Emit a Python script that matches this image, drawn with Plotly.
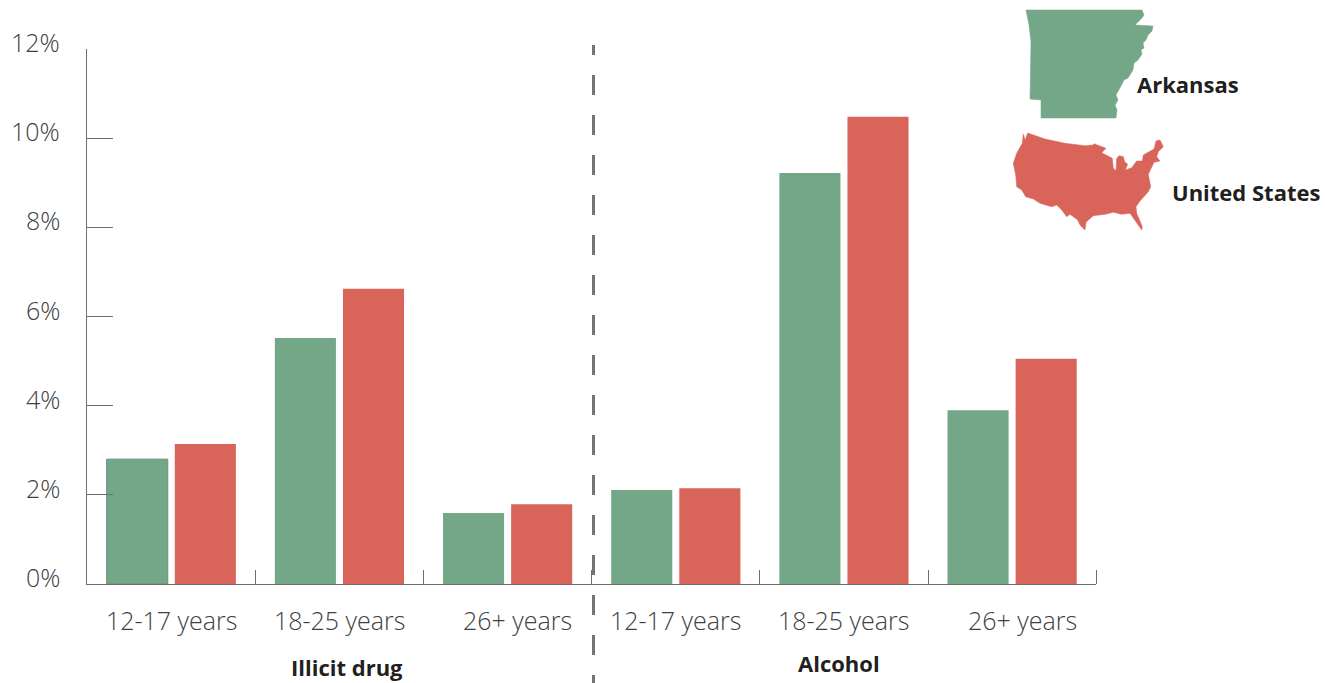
import plotly.graph_objects as go

W, H = 1325, 683
PLOT_LEFT, PLOT_RIGHT, PLOT_TOP, PLOT_BOTTOM = 87.2, 1096.2, 49, 584

# Percent of each age group reporting dependence or abuse
age_groups = ["12-17 years", "18-25 years", "26+ years", "12-17 years", "18-25 years", "26+ years"]
arkansas = [2.8, 5.52, 1.59, 2.11, 9.22, 3.9]
united_states = [3.14, 6.62, 1.79, 2.15, 10.48, 5.05]
y_ticks = [0, 2, 4, 6, 8, 10, 12]
label_shift = [0, 0, 10, 0, 0, 10]

GREEN = "#74A688"
RED = "#D96459"
TEXT = "#404040"
DARK = "#231F20"
AXIS = "#6E6E6E"
LIGHT_FONT = "Open Sans"
BOLD_FONT = "Open Sans"

# State and country silhouettes, in page pixels
arkansas_x = [1026, 1142, 1144, 1142, 1135, 1153, 1152, 1148, 1146, 1143, 1144, 1141, 1142, 1138, 1134,
              1133, 1128, 1124, 1121, 1119, 1116, 1118, 1115, 1117, 1116, 1041, 1041, 1030, 1031, 1029, 1026]
arkansas_y = [10, 10, 15, 18, 25, 26, 31, 35, 40, 43, 48, 50, 54, 60, 63,
              70, 78, 80, 86, 90, 95, 100, 105, 110, 118, 118, 100, 99, 42, 25, 10]
usa_x = [1023.3, 1025, 1027.7, 1045, 1065, 1085, 1093.3, 1094, 1106, 1101.7, 1112.3, 1113.3, 1116, 1116.7,
         1119.3, 1123.3, 1124.7, 1127.7, 1125.3, 1131.7, 1136.7, 1142.3, 1143.3, 1154, 1156, 1160, 1163.3,
         1158.3, 1156.7, 1160, 1154, 1150, 1148.3, 1150.7, 1148.3, 1140, 1136, 1136.7, 1142.3, 1141.7,
         1136.7, 1130, 1121.7, 1113.3, 1105, 1093.3, 1086, 1085, 1080, 1077.7, 1070, 1066.7, 1061.7,
         1056.7, 1051.7, 1040, 1033.3, 1025.7, 1021.7, 1016.7, 1015.7, 1013.3, 1016.7, 1022.3, 1023.3]
usa_y = [134, 140, 133, 139, 143.3, 145.7, 145, 143.7, 148.3, 152.7, 158.3, 168.3, 170.7, 158.3,
         155.7, 156.7, 161.7, 164.3, 170, 167.7, 161, 161, 155, 149, 141, 140, 146.7,
         151.7, 156.7, 161, 162.3, 170, 174.3, 186.7, 191.7, 201, 206.7, 213.3, 226.7, 230,
         223.3, 213.3, 214.3, 212.3, 214.3, 215.7, 222.3, 230, 225, 220, 214.3, 216.7, 210,
         205, 206.7, 203.3, 199, 196.7, 190, 186.7, 175, 163.3, 153.3, 143.3, 134]

# Vertical separator between the two substance groups
separator_x = [593.5, 593.5]
separator_y = [75, 683]
separator_cap_y = [45, 55]

positions = list(range(len(age_groups)))

fig = go.Figure()
fig.add_bar(
    x=positions, y=arkansas, name="Arkansas", marker_color=GREEN,
    marker_line_color=["#6B8F7A"] + [GREEN] * 5,
    marker_line_width=[1, 0, 0, 0, 0, 0],
    showlegend=False, hoverinfo="x+y",
)
fig.add_bar(
    x=positions, y=united_states, name="United States", marker_color=RED,
    marker_line_width=0, showlegend=False, hoverinfo="x+y",
)

for xs, ys, color, name in (
    (arkansas_x, arkansas_y, GREEN, "Arkansas outline"),
    (usa_x, usa_y, RED, "United States outline"),
):
    fig.add_trace(go.Scatter(
        x=xs, y=ys, xaxis="x2", yaxis="y2", mode="lines", fill="toself",
        fillcolor=color, line=dict(color=color, width=0.5), name=name,
        showlegend=False, hoverinfo="skip",
    ))

fig.add_trace(go.Scatter(
    x=separator_x, y=separator_y, xaxis="x2", yaxis="y2", mode="lines",
    line=dict(color="#747474", width=3, dash="20px,20px"),
    showlegend=False, hoverinfo="skip",
))
fig.add_trace(go.Scatter(
    x=separator_x, y=separator_cap_y, xaxis="x2", yaxis="y2", mode="lines",
    line=dict(color="#747474", width=3),
    showlegend=False, hoverinfo="skip",
))

annotations = []
# Percent labels sit slightly above their tick marks
for v in y_ticks:
    annotations.append(dict(
        x=0, xref="x domain", y=v, yref="y", text=f"{v}%", showarrow=False,
        xanchor="right", yanchor="middle", xshift=-25.5, yshift=7,
        font=dict(family=LIGHT_FONT, size=25, color=TEXT, weight=300),
    ))
for pos, label, shift in zip(positions, age_groups, label_shift):
    annotations.append(dict(
        x=pos, xref="x", y=0, yref="y", text=label, showarrow=False,
        xanchor="center", yanchor="middle", xshift=shift, yshift=-36,
        font=dict(family=LIGHT_FONT, size=25, color=TEXT, weight=300),
    ))
for x, y, label, anchor in (
    (347, 666.5, "Illicit drug", "center"),
    (839, 662.5, "Alcohol", "center"),
    (1134.5, 83.5, "Arkansas", "left"),
    (1169.5, 191.5, "United States", "left"),
):
    annotations.append(dict(
        x=x, xref="x2", y=y, yref="y2", text=label, showarrow=False,
        xanchor=anchor, yanchor="middle",
        font=dict(family=BOLD_FONT, size=22, color=DARK, weight=700),
    ))

fig.update_layout(
    width=W, height=H, margin=dict(l=0, r=0, t=0, b=0),
    paper_bgcolor="white", plot_bgcolor="rgba(0,0,0,0)",
    barmode="group", bargap=0.19, bargroupgap=0.103,
    annotations=annotations,
    xaxis=dict(
        domain=[PLOT_LEFT / W, PLOT_RIGHT / W], range=[-0.5, 5.5],
        showgrid=False, zeroline=False, showline=True, linecolor=AXIS, linewidth=1,
        tickmode="array", tickvals=positions, ticktext=[""] * 6, ticks="",
        minor=dict(tickmode="array", tickvals=[0.5, 1.5, 2.5, 3.5, 4.5, 5.5],
                   ticks="inside", ticklen=14, tickcolor=AXIS, tickwidth=1, showgrid=False),
    ),
    yaxis=dict(
        domain=[(H - PLOT_BOTTOM) / H, (H - PLOT_TOP) / H], range=[0, 12],
        showgrid=False, zeroline=False, showline=True, linecolor=AXIS, linewidth=1,
        tickmode="array", tickvals=y_ticks, ticks="inside", ticklen=26,
        tickcolor=AXIS, tickwidth=1, showticklabels=False,
    ),
    # Hidden page-pixel axes for the silhouettes, separator and bold captions
    xaxis2=dict(domain=[0, 1], range=[0, W], visible=False, fixedrange=True, anchor="y2"),
    yaxis2=dict(domain=[0, 1], range=[H, 0], visible=False, fixedrange=True, anchor="x2"),
)

fig.write_html("out.html")
